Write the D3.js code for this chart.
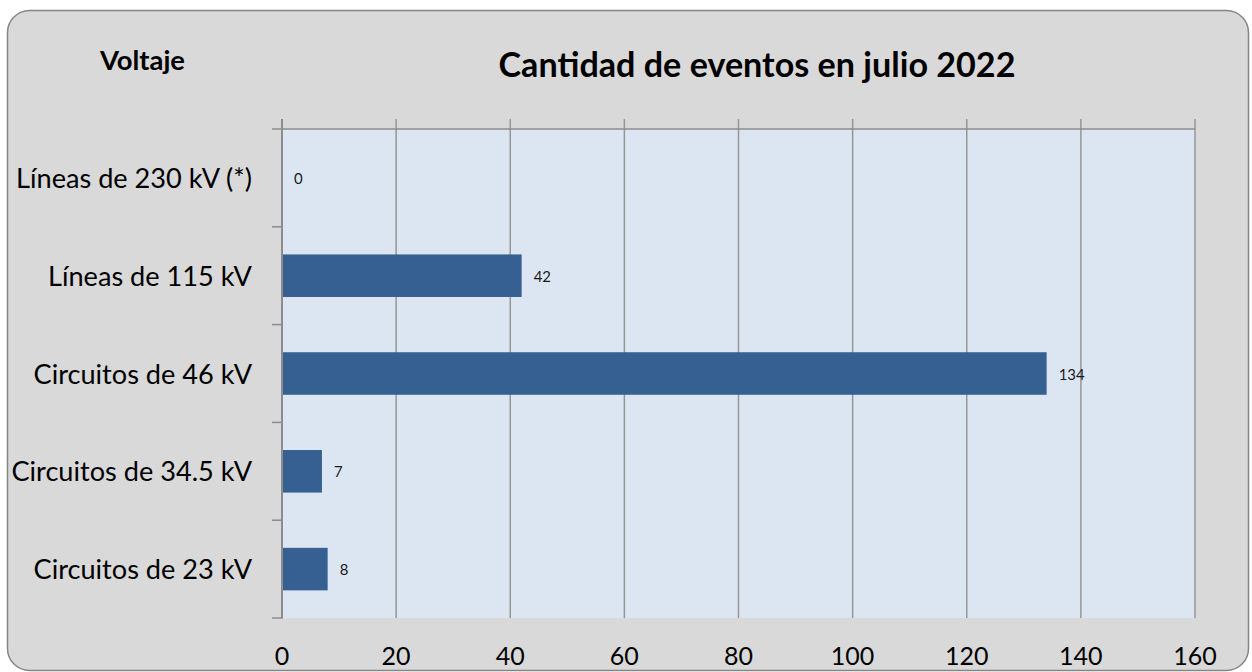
<!DOCTYPE html>
<html>
<head>
<meta charset="utf-8">
<script src="https://cdn.jsdelivr.net/npm/d3@7"></script>
<style>
  html, body { margin: 0; padding: 0; background: #ffffff; }
  svg { display: block; font-family: Lato, "Open Sans", sans-serif; }
</style>
</head>
<body>
<div id="chart"></div>
<script>
// data
const categories = ['Líneas de 230 kV (*)', 'Líneas de 115 kV', 'Circuitos de 46 kV', 'Circuitos de 34.5 kV', 'Circuitos de 23 kV'];
const values = [0, 42, 134, 7, 8];
const xTicks = [0, 20, 40, 60, 80, 100, 120, 140, 160];

const width = 1252, height = 672;
const plot = { left: 283, right: 1195, top: 129, bottom: 618 };

const svg = d3.select('#chart')
  .append('svg')
  .attr('width', width)
  .attr('height', height);

// resize a text selection so that one of its items gets a given width
function fitWidth(sel, size, pick, target) {
  sel.attr('font-size', size);
  const node = sel.filter(pick).node();
  const w = node.getComputedTextLength();
  sel.attr('font-size', size * target / w);
}

// chart frame
svg.append('rect')
  .attr('x', 7.5).attr('y', 10.5)
  .attr('width', 1241).attr('height', 660)
  .attr('rx', 22).attr('ry', 22)
  .attr('fill', '#d9d9d9')
  .attr('stroke', '#868686')
  .attr('stroke-width', 1.5);

const x = d3.scaleLinear().domain([0, 160]).range([plot.left - 1, plot.right]);
const y = d3.scaleBand().domain(categories).range([plot.top, plot.bottom]).paddingInner(0.565).paddingOuter(0.2825);
const yBand = d3.scaleBand().domain(categories).range([plot.top, plot.bottom]);

// plot area
svg.append('rect')
  .attr('x', plot.left).attr('y', plot.top)
  .attr('width', plot.right - plot.left).attr('height', plot.bottom - plot.top)
  .attr('fill', '#dce6f2');

// vertical gridlines (they poke above the plot like tick marks)
svg.append('g')
  .selectAll('line')
  .data(xTicks.slice(1))
  .join('line')
  .attr('x1', d => x(d)).attr('x2', d => x(d))
  .attr('y1', plot.top - 10).attr('y2', plot.bottom)
  .attr('stroke', '#969696')
  .attr('stroke-width', 1.5);

// top border
svg.append('line')
  .attr('x1', plot.left - 11).attr('x2', plot.right)
  .attr('y1', plot.top).attr('y2', plot.top)
  .attr('stroke', '#8c8c8c').attr('stroke-width', 1.5);

// bars
svg.append('g')
  .selectAll('rect')
  .data(values)
  .join('rect')
  .attr('x', x(0) + 1)
  .attr('y', (d, i) => y(categories[i]))
  .attr('width', d => Math.max(0, x(d) - x(0) - 1))
  .attr('height', y.bandwidth())
  .attr('fill', '#366092');

// value labels
const valueLabels = svg.append('g')
  .selectAll('text')
  .data(values)
  .join('text')
  .attr('x', d => x(d) + 12)
  .attr('y', (d, i) => yBand(categories[i]) + yBand.bandwidth() / 2 + 6)
  .attr('fill', '#1a1a1a')
  .text(d => d);
fitWidth(valueLabels, 14, d => d === 134, 26);

// y axis line + ticks
svg.append('line')
  .attr('x1', x(0)).attr('x2', x(0))
  .attr('y1', plot.top - 10).attr('y2', plot.bottom)
  .attr('stroke', '#8c8c8c').attr('stroke-width', 2);

const bounds = categories.map(c => yBand(c)).concat([plot.bottom]);
svg.append('g')
  .selectAll('line')
  .data(bounds.slice(1))
  .join('line')
  .attr('x1', plot.left - 11).attr('x2', plot.left)
  .attr('y1', d => d).attr('y2', d => d)
  .attr('stroke', '#8c8c8c').attr('stroke-width', 1.5);

// category labels
const catLabels = svg.append('g')
  .selectAll('text')
  .data(categories)
  .join('text')
  .attr('x', 252)
  .attr('y', d => yBand(d) + yBand.bandwidth() / 2 + 10)
  .attr('text-anchor', 'end')
  .attr('fill', '#000')
  .text(d => d);
fitWidth(catLabels, 24, (d, i) => i === 0, 236);

// x tick labels
svg.append('g')
  .selectAll('text')
  .data(xTicks)
  .join('text')
  .attr('x', d => x(d))
  .attr('y', 665)
  .attr('text-anchor', 'middle')
  .attr('font-size', 25)
  .attr('fill', '#000')
  .text(d => d);

// titles
const title = svg.append('text')
  .attr('x', 757).attr('y', 77)
  .attr('text-anchor', 'middle')
  .attr('font-weight', 'bold')
  .text('Cantidad de eventos en julio 2022');
fitWidth(title, 31, () => true, 517);

const yTitle = svg.append('text')
  .attr('x', 100).attr('y', 70)
  .attr('font-weight', 'bold')
  .text('Voltaje');
fitWidth(yTitle, 19, () => true, 85);
</script>
</body>
</html>
